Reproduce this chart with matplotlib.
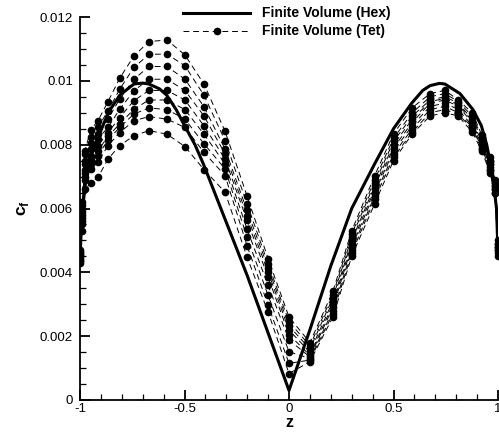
import numpy as np
import matplotlib
matplotlib.use("Agg")
import matplotlib.pyplot as plt
from matplotlib.lines import Line2D
from matplotlib.ticker import MultipleLocator, FixedLocator

plt.rcParams['font.family'] = ['Liberation Sans', 'DejaVu Sans']
plt.rcParams['mathtext.fontset'] = 'custom'
plt.rcParams['mathtext.rm'] = 'Liberation Sans'
plt.rcParams['mathtext.bf'] = 'Liberation Sans:bold'

# ---- data ----
hex_z = [-1.0, -0.995, -0.99, -0.976, -0.95, -0.915, -0.865, -0.81, -0.742, -0.70,
         -0.67, -0.62, -0.585, -0.54, -0.5, -0.45, -0.41, -0.32, -0.2, -0.1,
         0.0, 0.1, 0.2, 0.3, 0.41, 0.5, 0.587, 0.64, 0.675, 0.72,
         0.746, 0.818, 0.88, 0.92, 0.946, 0.97, 0.993, 1.0]
hex_cf = [0.0044, 0.0052, 0.0058, 0.0067, 0.0076, 0.0082, 0.0090, 0.00955, 0.0099, 0.00993,
          0.0099, 0.00975, 0.00955, 0.0091, 0.0086, 0.0080, 0.0074, 0.0059, 0.0039, 0.0021,
          0.0003, 0.0022, 0.0042, 0.0060, 0.0074, 0.0085, 0.0093, 0.0097, 0.00985, 0.00992,
          0.0099, 0.0096, 0.0091, 0.0086, 0.0080, 0.0072, 0.0060, 0.0046]

tet_z = [-1.0, -0.99, -0.976, -0.949, -0.914, -0.866, -0.81, -0.742, -0.67, -0.584,
         -0.498, -0.407, -0.306, -0.201, -0.1, 0.0, 0.1, 0.21, 0.3, 0.41,
         0.5, 0.59, 0.675, 0.746, 0.81, 0.876, 0.923, 0.962, 0.986, 1.0]

tet_1 = [0.0047, 0.0062, 0.0078, 0.00847, 0.00875, 0.00935, 0.01008, 0.01078, 0.01123, 0.01128,
         0.01081, 0.0099, 0.00842, 0.0064, 0.00443, 0.0026, 0.0018, 0.0034, 0.0053, 0.00703,
         0.00834, 0.00916, 0.0096, 0.0097, 0.0094, 0.0090, 0.0083, 0.0076, 0.0069, 0.0050]
tet_2 = [0.00465, 0.0061, 0.0077, 0.00823, 0.00854, 0.00906, 0.00974, 0.01042, 0.01083, 0.01084,
         0.01047, 0.00955, 0.00813, 0.00615, 0.00427, 0.00245, 0.0017, 0.0033, 0.0052, 0.0069,
         0.0082, 0.0090, 0.0095, 0.0096, 0.00935, 0.0089, 0.00825, 0.0075, 0.0068, 0.0049]
tet_3 = [0.0046, 0.0060, 0.0075, 0.00806, 0.00834, 0.0088, 0.00943, 0.01005, 0.01045, 0.01045,
         0.01005, 0.00919, 0.00786, 0.00594, 0.00415, 0.00232, 0.0016, 0.0032, 0.0051, 0.0068,
         0.0081, 0.0089, 0.0094, 0.0095, 0.0093, 0.0088, 0.0082, 0.0075, 0.0068, 0.0049]
tet_4 = [0.00455, 0.0059, 0.0074, 0.00787, 0.00819, 0.00854, 0.00911, 0.00969, 0.01005, 0.01005,
         0.0097, 0.0089, 0.00771, 0.00578, 0.00401, 0.00219, 0.0015, 0.0031, 0.0050, 0.0067,
         0.0080, 0.0088, 0.00935, 0.00945, 0.00925, 0.00875, 0.0081, 0.0074, 0.0067, 0.0048]
tet_5 = [0.0045, 0.0058, 0.0072, 0.00766, 0.00797, 0.00838, 0.00885, 0.00938, 0.0097, 0.0097,
         0.0094, 0.00859, 0.00755, 0.00563, 0.00385, 0.00205, 0.0014, 0.0030, 0.0049, 0.0066,
         0.0079, 0.0087, 0.0093, 0.0094, 0.0092, 0.0087, 0.0080, 0.0074, 0.0067, 0.0048]
tet_6 = [0.00445, 0.0057, 0.0071, 0.00752, 0.00781, 0.00826, 0.00865, 0.00911, 0.0094, 0.0094,
         0.0091, 0.00833, 0.0074, 0.00536, 0.00359, 0.00188, 0.00135, 0.0029, 0.0048, 0.0065,
         0.0078, 0.0086, 0.0092, 0.0093, 0.0091, 0.0086, 0.0080, 0.0073, 0.0066, 0.0047]
tet_7 = [0.0044, 0.0056, 0.0070, 0.0074, 0.00766, 0.00815, 0.00854, 0.00896, 0.00915, 0.0091,
         0.0088, 0.00803, 0.00724, 0.0051, 0.00328, 0.00151, 0.0013, 0.0028, 0.0047, 0.0064,
         0.0077, 0.0085, 0.0091, 0.0092, 0.0090, 0.00855, 0.0079, 0.0072, 0.0066, 0.0047]
tet_8 = [0.00435, 0.0055, 0.0069, 0.00724, 0.00745, 0.00797, 0.00838, 0.00875, 0.00888, 0.0088,
         0.00854, 0.00776, 0.00703, 0.00484, 0.00297, 0.00115, 0.00125, 0.0027, 0.0046, 0.0063,
         0.0076, 0.0084, 0.0090, 0.0091, 0.00895, 0.0085, 0.00785, 0.0072, 0.0065, 0.0046]
tet_9 = [0.0043, 0.0053, 0.0066, 0.0068, 0.00698, 0.00755, 0.00797, 0.00828, 0.00844, 0.00833,
         0.00794, 0.00722, 0.00651, 0.00448, 0.00276, 0.00083, 0.0012, 0.0026, 0.0045, 0.00615,
         0.0075, 0.00834, 0.0089, 0.0090, 0.0089, 0.0084, 0.0078, 0.0071, 0.0065, 0.0045]
tet_series = [tet_1, tet_2, tet_3, tet_4, tet_5, tet_6, tet_7, tet_8, tet_9]

x_ticks = [-1, -0.5, 0, 0.5, 1]
x_ticklabels = ["-1", "-0.5", "0", "0.5", "1"]
y_ticks = [0, 0.002, 0.004, 0.006, 0.008, 0.01, 0.012]
y_ticklabels = ["0", "0.002", "0.004", "0.006", "0.008", "0.01", "0.012"]
legend_labels = ["Finite Volume (Hex)", "Finite Volume (Tet)"]

# ---- figure ----
fig = plt.figure(figsize=(4.99, 4.37), dpi=100)
ax = fig.add_axes([80/499, 37/437, 418/499, 383/437])

for s in tet_series:
    ax.plot(tet_z, s, color='black', lw=0.7, ls=(0, (6, 4)),
            marker='o', ms=4.5, mfc='black', mec='black')
ax.plot(hex_z, hex_cf, color='black', lw=2.2, solid_joinstyle='round', zorder=3)

ax.set_xlim(-1, 1)
ax.set_ylim(0, 0.012)
ax.spines['top'].set_visible(False)
ax.spines['right'].set_visible(False)
ax.spines['left'].set_linewidth(1.3)
ax.spines['bottom'].set_linewidth(1.3)

ax.xaxis.set_major_locator(FixedLocator(x_ticks))
ax.set_xticklabels(x_ticklabels)
ax.xaxis.set_minor_locator(MultipleLocator(0.1))
ax.yaxis.set_major_locator(FixedLocator(y_ticks))
ax.set_yticklabels(y_ticklabels)
ax.yaxis.set_minor_locator(MultipleLocator(0.0005))
ax.tick_params(which='major', direction='in', length=7, width=1.3, labelsize=9.5, pad=2)
ax.tick_params(which='minor', direction='in', length=4, width=0.9)
ax.tick_params(axis='y', which='major', pad=5)

ax.set_xlabel('z', fontsize=11.5, fontweight='bold', labelpad=0)
ax.set_ylabel(r'$\mathbf{c}_\mathbf{f}$', fontsize=12.5, labelpad=6)

# legend (manual, Tecplot style)
fig.add_artist(Line2D([183/499, 250/499], [1-13/437, 1-13/437], color='black', lw=2.2,
                      transform=fig.transFigure))
fig.add_artist(Line2D([183/499, 250/499], [1-31/437, 1-31/437], color='black', lw=0.7,
                      ls=(0, (6, 4)), transform=fig.transFigure))
fig.add_artist(Line2D([217/499], [1-31/437], color='black', marker='o', ms=4.5, lw=0,
                      transform=fig.transFigure))
fig.text(262/499, 1-13/437, legend_labels[0], fontsize=10, fontweight='bold', va='center', ha='left')
fig.text(262/499, 1-31/437, legend_labels[1], fontsize=10, fontweight='bold', va='center', ha='left')

fig.savefig('out.png', dpi=100)
